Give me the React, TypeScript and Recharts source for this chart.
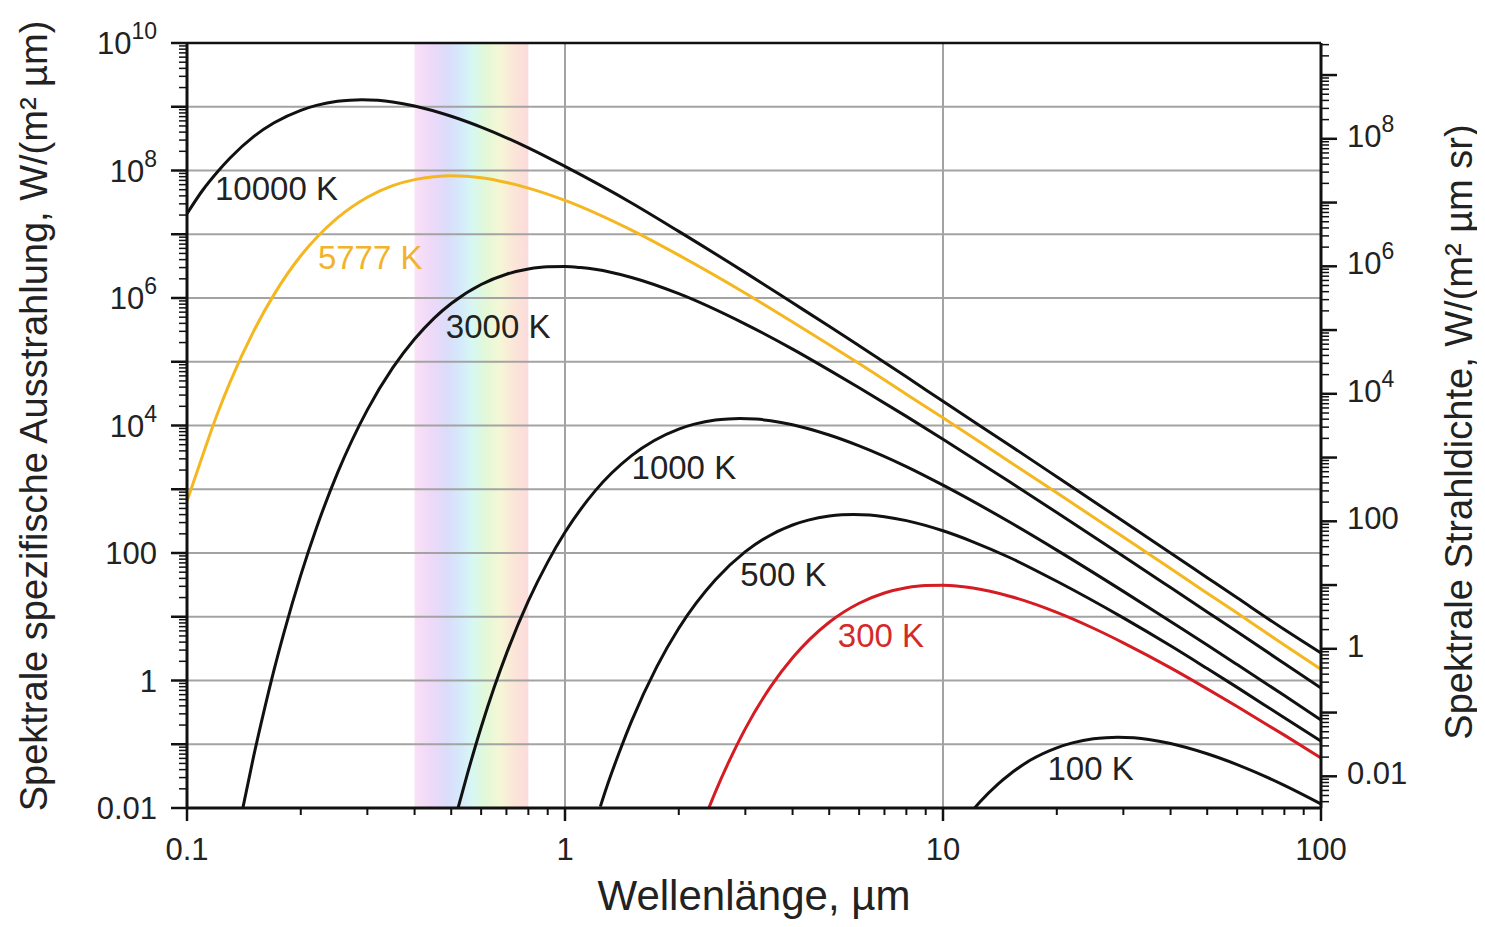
import React from 'react';
import {
  LineChart,
  Line,
  XAxis,
  YAxis,
  ReferenceLine,
  ReferenceArea,
  ReferenceDot,
} from 'recharts';

// wavelengths (µm) and spectral exitance W/(m² µm)
const WL_10000 = [0.1, 0.11, 0.12, 0.13, 0.15, 0.17, 0.2, 0.22, 0.25, 0.27, 0.29, 0.32, 0.35, 0.4, 0.5, 0.6, 0.8, 1, 1.5, 2, 3, 4, 5, 6, 8, 10, 15, 20, 30, 40, 50, 60, 80, 100];
const M_10000 = [2.1e7, 4.9e7, 9.3e7, 1.57e8, 3.4e8, 5.6e8, 8.8e8, 1.05e9, 1.22e9, 1.27e9, 1.29e9, 1.26e9, 1.19e9, 1.03e9, 7.1e8, 4.8e8, 2.27e8, 1.16e8, 3.1e7, 1.11e7, 2.5e6, 8.4e5, 3.6e5, 1.78e5, 5.8e4, 2.4e4, 4.9e3, 1.57e3, 314, 100, 41, 19.8, 6.3, 2.7];

const WL_5777 = [0.1, 0.11, 0.12, 0.13, 0.15, 0.17, 0.2, 0.22, 0.25, 0.3, 0.35, 0.4, 0.45, 0.5, 0.55, 0.6, 0.7, 0.8, 1, 1.5, 2, 3, 4, 5, 6, 8, 10, 15, 20, 30, 40, 50, 60, 80, 100];
const M_5777 = [650, 3.4e3, 1.46e4, 4.8e4, 3.0e5, 1.14e6, 4.6e6, 8.8e6, 1.8e7, 3.8e7, 5.8e7, 7.2e7, 8.0e7, 8.3e7, 8.1e7, 7.7e7, 6.5e7, 5.3e7, 3.4e7, 1.16e7, 4.7e6, 1.19e6, 4.2e5, 1.85e5, 9.4e4, 3.1e4, 1.32e4, 2.7e3, 880, 178, 57, 23.4, 11.4, 3.6, 1.5];

const WL_3000 = [0.14, 0.15, 0.16, 0.17, 0.18, 0.2, 0.22, 0.25, 0.3, 0.35, 0.4, 0.45, 0.5, 0.6, 0.7, 0.8, 0.9, 1, 1.1, 1.2, 1.5, 2, 3, 4, 5, 6, 8, 10, 15, 20, 30, 40, 50, 60, 80, 100];
const M_3000 = [0.009, 0.064, 0.34, 1.48, 5.3, 45, 247, 1790, 1.76e4, 8.0e4, 2.27e5, 4.8e5, 8.2e5, 1.63e6, 2.36e6, 2.85e6, 3.09e6, 3.12e6, 3.0e6, 2.82e6, 2.1e6, 1.17e6, 3.9e5, 1.58e5, 7.4e4, 3.9e4, 1.39e4, 6.1e3, 1.31e3, 431, 89, 28.7, 11.9, 5.8, 1.85, 0.76];

const WL_1000 = [0.52, 0.55, 0.6, 0.65, 0.7, 0.8, 0.9, 1, 1.2, 1.5, 2, 2.2, 2.5, 2.7, 2.9, 3.2, 3.5, 4, 5, 6, 8, 10, 15, 20, 30, 40, 50, 60, 80, 100];
const M_1000 = [0.0095, 0.032, 0.185, 0.79, 2.64, 17.7, 72, 211, 934, 3.36e3, 8.8e3, 1.05e4, 1.22e4, 1.27e4, 1.29e4, 1.26e4, 1.19e4, 1.03e4, 7.1e3, 4.8e3, 2.27e3, 1.16e3, 306, 111, 25, 8.4, 3.6, 1.78, 0.58, 0.24];

const WL_500 = [1.24, 1.3, 1.4, 1.5, 1.75, 2, 2.5, 3, 4, 4.4, 5, 5.4, 5.8, 6.4, 7, 8, 10, 12, 15, 20, 30, 40, 50, 60, 80, 100];
const M_500 = [0.0105, 0.0246, 0.082, 0.23, 1.65, 6.6, 38, 105, 275, 328, 380, 397, 402, 393, 371, 322, 223, 150, 85, 36, 9.6, 3.5, 1.54, 0.78, 0.26, 0.112];

const WL_300 = [2.4, 2.5, 2.7, 3, 3.5, 4, 5, 6, 7, 8, 9, 10, 11, 12, 15, 20, 25, 30, 40, 50, 60, 80, 100];
const M_300 = [0.0099, 0.0179, 0.05, 0.176, 0.8, 2.27, 8.2, 16.3, 23.6, 28.5, 30.9, 31.2, 30.1, 28.2, 21, 11.7, 6.6, 3.9, 1.58, 0.74, 0.39, 0.139, 0.061];

const WL_100 = [12, 12.5, 14, 15, 17, 20, 22, 25, 27, 29, 32, 35, 40, 50, 60, 80, 100];
const M_100 = [0.0093, 0.0123, 0.024, 0.0336, 0.056, 0.088, 0.105, 0.122, 0.127, 0.129, 0.126, 0.119, 0.103, 0.071, 0.048, 0.0227, 0.0116];

const BLACK = '#111111';
const YELLOW = '#f5b71f';
const RED = '#d41c22';
const TEXT = '#222222';
const GRID = '#a3a3a3';
const FONT = '"Liberation Sans", Arial, Helvetica, sans-serif';

const CURVES = [
  { name: '10000 K', wl: WL_10000, m: M_10000, color: BLACK },
  { name: '5777 K', wl: WL_5777, m: M_5777, color: YELLOW },
  { name: '3000 K', wl: WL_3000, m: M_3000, color: BLACK },
  { name: '1000 K', wl: WL_1000, m: M_1000, color: BLACK },
  { name: '500 K', wl: WL_500, m: M_500, color: BLACK },
  { name: '300 K', wl: WL_300, m: M_300, color: RED },
  { name: '100 K', wl: WL_100, m: M_100, color: BLACK },
];

// where each curve name sits (left edge, vertical centre) in data units
const CURVE_LABELS = [
  { text: '10000 K', x: 0.1186, y: 5.3e7, color: TEXT },
  { text: '5777 K', x: 0.222, y: 4.4e6, color: '#f2b32c' },
  { text: '3000 K', x: 0.484, y: 3.6e5, color: TEXT },
  { text: '1000 K', x: 1.5, y: 2234, color: TEXT },
  { text: '500 K', x: 2.91, y: 46.9, color: TEXT },
  { text: '300 K', x: 5.27, y: 5.17, color: '#d42a2a' },
  { text: '100 K', x: 18.9, y: 0.0424, color: TEXT },
];

const X_DOMAIN: [number, number] = [0.1, 100];
const Y_DOMAIN: [number, number] = [0.01, 1e10];
const Y2_DOMAIN: [number, number] = [0.01 / Math.PI, 1e10 / Math.PI];

const LEFT_LABEL_EXP = [-2, 0, 2, 4, 6, 8, 10];
const RIGHT_LABEL_EXP = [-2, 0, 2, 4, 6, 8];
const X_LABEL_EXP = [-1, 0, 1, 2];

const W = 1477;
const H = 911;
const PLOT = { left: 179, right: 1313, top: 35, bottom: 800 };

function logTicks([min, max]: [number, number]) {
  const out: number[] = [];
  const lo = Math.floor(Math.log10(min));
  const hi = Math.ceil(Math.log10(max));
  for (let e = lo; e <= hi; e++) {
    for (let k = 1; k <= 9; k++) {
      const v = parseFloat((k * Math.pow(10, e)).toPrecision(6));
      if (v >= min * 0.9999 && v <= max * 1.0001) out.push(v);
    }
  }
  return out;
}

const exp10 = (v: number) => Math.round(Math.log10(v));
const isMajor = (v: number) => Math.abs(Math.log10(v) - exp10(v)) < 1e-6;

function TickLabel({ x, y, v, anchor }: { x: number; y: number; v: number; anchor: 'start' | 'middle' | 'end' }) {
  const e = exp10(v);
  return (
    <text x={x} y={y} textAnchor={anchor} fontSize={31} fill={TEXT} fontFamily={FONT}>
      {e >= 3 ? (
        <>
          10
          <tspan dy={-15} fontSize={23}>
            {e}
          </tspan>
        </>
      ) : (
        String(Math.pow(10, e))
      )}
    </text>
  );
}

const LeftTick = (p: any) => {
  const v = p.payload.value;
  const y = p.y;
  const maj = isMajor(v);
  return (
    <g>
      <line x1={PLOT.left - (maj ? 16 : 8)} x2={PLOT.left} y1={y} y2={y} stroke={BLACK} strokeWidth={maj ? 2.5 : 1.5} />
      {maj && LEFT_LABEL_EXP.includes(exp10(v)) && <TickLabel x={PLOT.left - 30} y={y + 11} v={v} anchor="end" />}
    </g>
  );
};

const RightTick = (p: any) => {
  const v = p.payload.value;
  const y = p.y;
  const maj = isMajor(v);
  return (
    <g>
      <line x1={PLOT.right} x2={PLOT.right + (maj ? 16 : 8)} y1={y} y2={y} stroke={BLACK} strokeWidth={maj ? 2.5 : 1.5} />
      {maj && RIGHT_LABEL_EXP.includes(exp10(v)) && <TickLabel x={PLOT.right + 26} y={y + 8} v={v} anchor="start" />}
    </g>
  );
};

const BottomTick = (p: any) => {
  const v = p.payload.value;
  const x = p.x;
  const maj = isMajor(v);
  return (
    <g>
      <line x1={x} x2={x} y1={PLOT.bottom} y2={PLOT.bottom + (maj ? 13 : 7)} stroke={BLACK} strokeWidth={maj ? 2.5 : 2} />
      {maj && X_LABEL_EXP.includes(exp10(v)) && <TickLabel x={x} y={PLOT.bottom + 52} v={v} anchor="middle" />}
    </g>
  );
};

const gridDecades = logTicks(Y_DOMAIN).filter((v) => isMajor(v) && v > Y_DOMAIN[0] && v < Y_DOMAIN[1]);

export default function App() {
  const axisLine = { stroke: BLACK, strokeWidth: 3 };
  return (
    <div style={{ position: 'relative', width: W, height: H, fontFamily: FONT }}>
      <LineChart width={W} height={H} margin={{ top: PLOT.top, right: 0, bottom: 0, left: 0 }}>
        <defs>
          <linearGradient id="visband" x1="0" y1="0" x2="1" y2="0">
            <stop offset="0%" stopColor="#f9e1f6" />
            <stop offset="14%" stopColor="#efd9f8" />
            <stop offset="28%" stopColor="#dcdcfa" />
            <stop offset="40%" stopColor="#d5e9fb" />
            <stop offset="50%" stopColor="#d6f7f4" />
            <stop offset="62%" stopColor="#e2f8d8" />
            <stop offset="75%" stopColor="#f5f7d6" />
            <stop offset="88%" stopColor="#fbe5d8" />
            <stop offset="100%" stopColor="#fbdcdc" />
          </linearGradient>
        </defs>
        <XAxis
          type="number"
          dataKey="x"
          scale="log"
          domain={X_DOMAIN}
          allowDataOverflow
          ticks={logTicks(X_DOMAIN)}
          interval={0}
          height={H - PLOT.bottom}
          axisLine={axisLine}
          tickLine={false}
          tick={BottomTick}
        />
        <YAxis
          yAxisId="left"
          type="number"
          scale="log"
          domain={Y_DOMAIN}
          allowDataOverflow
          ticks={logTicks(Y_DOMAIN)}
          interval={0}
          width={PLOT.left}
          axisLine={axisLine}
          tickLine={false}
          tick={LeftTick}
        />
        <YAxis
          yAxisId="right"
          orientation="right"
          type="number"
          scale="log"
          domain={Y2_DOMAIN}
          allowDataOverflow
          ticks={logTicks(Y2_DOMAIN)}
          interval={0}
          width={W - PLOT.right}
          axisLine={axisLine}
          tickLine={false}
          tick={RightTick}
        />
        <ReferenceArea yAxisId="left" x1={0.4} x2={0.8} y1={Y_DOMAIN[0]} y2={Y_DOMAIN[1]} fill="url(#visband)" fillOpacity={1} stroke="none" />
        {gridDecades.map((v) => (
          <ReferenceLine key={'h' + v} yAxisId="left" y={v} stroke={GRID} strokeWidth={2} />
        ))}
        <ReferenceLine yAxisId="left" x={1} stroke={GRID} strokeWidth={2} />
        <ReferenceLine yAxisId="left" x={10} stroke={GRID} strokeWidth={2} />
        <ReferenceLine yAxisId="left" y={Y_DOMAIN[1]} stroke={BLACK} strokeWidth={2.5} />
        {CURVES.map((c) => (
          <Line
            key={c.name}
            yAxisId="left"
            data={c.wl.map((x, i) => ({ x, y: c.m[i] }))}
            dataKey="y"
            type="monotone"
            stroke={c.color}
            strokeWidth={3}
            dot={false}
            activeDot={false}
            isAnimationActive={false}
          />
        ))}
        {CURVE_LABELS.map((l) => (
          <ReferenceDot
            key={l.text}
            yAxisId="left"
            x={l.x}
            y={l.y}
            r={0}
            shape={(p: any) => (
              <text x={p.cx} y={p.cy + 12} fontSize={33} fill={l.color} fontFamily={FONT}>
                {l.text}
              </text>
            )}
          />
        ))}
      </LineChart>
      <svg
        width={W}
        height={H}
        style={{ position: 'absolute', left: 0, top: 0, overflow: 'visible', pointerEvents: 'none' }}
      >
        <text x={(PLOT.left + PLOT.right) / 2} y={902} textAnchor="middle" fontSize={42} fill={TEXT} fontFamily={FONT}>
          Wellenlänge, µm
        </text>
        <text x={39} y={408} transform="rotate(-90 39 408)" textAnchor="middle" fontSize={38} fill={TEXT} fontFamily={FONT}>
          Spektrale spezifische Ausstrahlung, W/(m² µm)
        </text>
        <text x={1464} y={424} transform="rotate(-90 1464 424)" textAnchor="middle" fontSize={38} fill={TEXT} fontFamily={FONT}>
          Spektrale Strahldichte, W/(m² µm sr)
        </text>
      </svg>
    </div>
  );
}
